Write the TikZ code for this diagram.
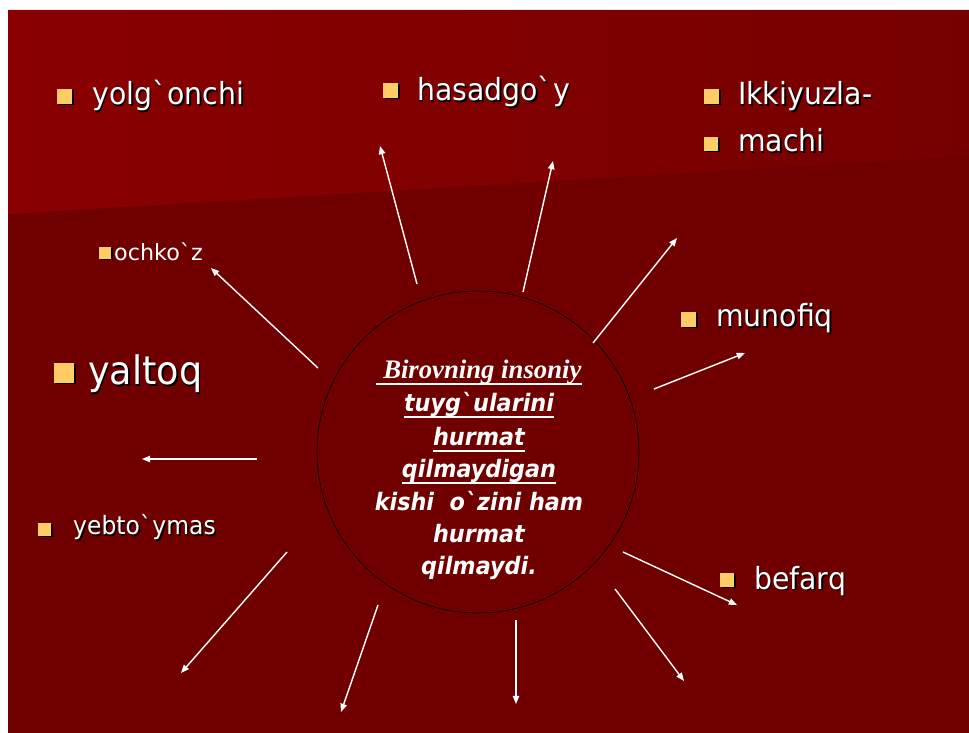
\documentclass[tikz,border=0pt]{standalone}
\usepackage{fontspec}
\setmainfont{DejaVu Sans}[FakeStretch=0.93]
\newfontfamily\widef{DejaVu Sans}
\newfontfamily\timesf{Liberation Serif}
\usetikzlibrary{arrows.meta}

\definecolor{slidebg}{RGB}{112,0,0}
\definecolor{slidetop}{RGB}{138,0,0}
\definecolor{slidetopr}{RGB}{118,0,0}
\definecolor{bulletc}{RGB}{255,204,102}

\newcommand\shd[1]{\rlap{\kern1.5pt\raisebox{-1.5pt}{\color{black}#1}}#1}
\newcommand\gr{\textasciigrave}

\tikzset{
  lab/.style={text=white, inner sep=0pt, anchor=base west},
  midtxt/.style={text=white, inner sep=0pt, anchor=base,
    font=\fontsize{20.5}{24}\selectfont\bfseries\itshape},
  ray/.style={white, line width=1.2pt, -{Triangle[length=7pt,width=5.5pt]}},
}

\begin{document}
\begin{tikzpicture}[x=0.3mm,y=-0.3mm]

    \useasboundingbox (0,0) rectangle (969,733);

    \pgfmathsetmacro{\big}{26}

    % slide
    \fill[white] (0,0) rectangle (969,733);
    \fill[slidebg] (8,10) rectangle (969,733);
    \shade[left color=slidetop, right color=slidetopr]
        (8,10) -- (969,10) -- (969,156) -- (8,214) -- cycle;

    % bullets
    \foreach \bx/\by/\bs in {57/89/15, 383/83/15, 704/89/15, 704/137/14,
        681/312/15, 720/573/14, 99/247/12, 54/363/20, 38/523/13}{
        \fill[black] (\bx+1.5,\by+1.5) rectangle ++(\bs,\bs);
        \fill[bulletc] (\bx,\by) rectangle ++(\bs,\bs);
    }

    \node[lab, font=\fontsize{\big}{30}\selectfont] (yolg) at (92,105) {\shd{yolg\gr onchi}};
    \node[lab, font=\fontsize{\big}{30}\selectfont] (hasad) at (417,101) {\shd{hasadgo\gr y}};
    \node[lab, font=\fontsize{\big}{30}\selectfont] (ikki) at (738,105) {\shd{Ikkiyuzla-}};
    \node[lab, font=\fontsize{\big}{30}\selectfont] (machi) at (738,152) {\shd{machi}};
    \node[lab, font=\fontsize{\big}{30}\selectfont] (munof) at (716,327) {\shd{munofiq}};
    \node[lab, font=\fontsize{\big}{30}\selectfont] (befarq) at (754,589) {\shd{befarq}};
    \node[lab, font=\widef\fontsize{19}{22}\selectfont] (ochko) at (114,261) {ochko\gr z};
    \node[lab, font=\fontsize{33.5}{38}\selectfont] (yaltoq) at (88,385) {\shd{yaltoq}};
    \node[lab, font=\fontsize{21.5}{25}\selectfont] (yebto) at (73,535) {\shd{yebto\gr ymas}};

    % circle and its text
    \node[draw=black, line width=0.6pt, circle, minimum size=96.6mm, inner sep=0pt] (core) at (478,452) {};

    \node[midtxt, font=\timesf\fontsize{22.8}{26}\selectfont\bfseries\itshape] (m1) at (479,379) {\ Birovning insoniy};
    \node[midtxt] (m2) at (479,412) {tuyg\gr ularini};
    \node[midtxt] (m3) at (479,446) {hurmat};
    \node[midtxt] (m4) at (479,478) {qilmaydigan};
    \node[midtxt] (m5) at (479,511) {kishi\ \ o\gr zini ham};
    \node[midtxt] (m6) at (479,543) {hurmat};
    \node[midtxt] (m7) at (479,575) {qilmaydi.};

    \foreach \m in {m1,m2,m3,m4}
        \draw[white, line width=1.6pt] ([yshift=-4.5pt]\m.base west) -- ([yshift=-4.5pt]\m.base east);

    % rays
    \foreach \i/\sx/\sy/\tx/\ty in {1/417/284/380/146, 2/523/292/553/161,
        3/593/343/677/238, 4/654/389/745/353, 5/623/552/737/605,
        6/615/589/684/681, 7/516/620/516/704, 8/378/605/341/712,
        9/287/552/181/673, 10/257/459/142/459, 11/318/368/211/268}{
        \coordinate (s\i) at (\sx,\sy);
        \coordinate (t\i) at (\tx,\ty);
        \draw[ray] (s\i) -- (t\i);
    }

\end{tikzpicture}
\end{document}
